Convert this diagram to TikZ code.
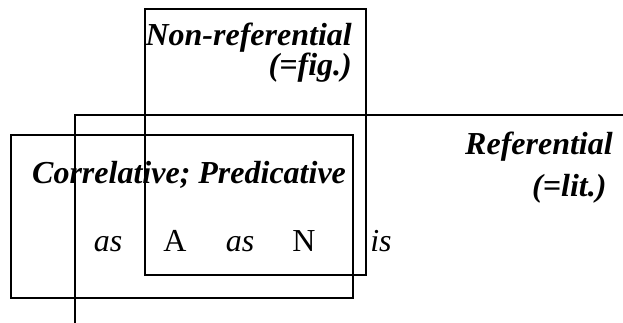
\documentclass[tikz,border=0pt]{standalone}
\usepackage{fontspec}
\setmainfont{Liberation Serif}

\begin{document}
\begin{tikzpicture}[
    x=1pt, y=-1pt,
    lbl/.style={font=\fontsize{32}{32}\selectfont\bfseries\itshape, inner sep=0pt},
    wd/.style={font=\fontsize{32}{32}\selectfont, inner sep=0pt, anchor=base},
    thinbox/.style={draw, line width=1.4pt},
    thickbox/.style={draw, line width=2.2pt}
]
\useasboundingbox (0,0) rectangle (623,323);

% the three regions
\draw[thinbox] (145,9) rectangle (366,275);
\coordinate (refend) at (623,115);
\coordinate (refbot) at (75,323);
\draw[thinbox] (refend) -| (refbot);
\draw[thickbox] (11,135) rectangle (353,298);

\node[lbl, anchor=base east] (nonref) at (352,46) {Non-referential};
\node[lbl, anchor=base east] (fig) at (352,76) {(=fig.)};
\node[lbl, anchor=base west] (ref) at (465,155) {Referential};
\node[lbl, anchor=base west] (lit) at (532,196) {(=lit.)};
\node[lbl, anchor=base west] (corr) at (32,183) {Correlative; Predicative};

\node[wd, font=\fontsize{32}{32}\selectfont\itshape] (as1) at (108,251) {as};
\node[wd] (adj) at (175,251) {A};
\node[wd, font=\fontsize{32}{32}\selectfont\itshape] (as2) at (240,251) {as};
\node[wd] (noun) at (304,251) {N};
\node[wd, font=\fontsize{32}{32}\selectfont\itshape] (is) at (381,251) {is};
\end{tikzpicture}
\end{document}
